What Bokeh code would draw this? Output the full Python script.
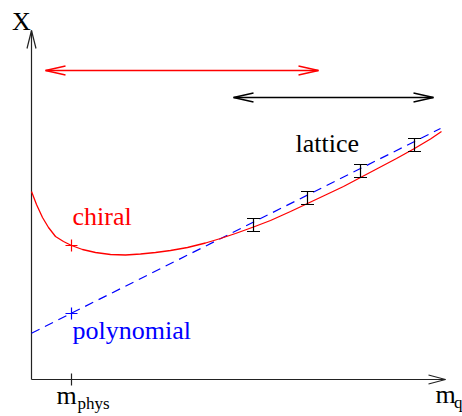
from bokeh.plotting import figure
from bokeh.models import Range1d
from bokeh.core.properties import value
from bokeh.embed import file_html
from bokeh.resources import INLINE

# --- data (quark-mass axis m_q horizontal, observable X vertical) ---
chiral_m = [0, 5, 11, 17, 24, 32, 40, 51, 64, 79, 94, 109, 124, 139, 156,
            174, 189, 204, 222, 239, 259, 276, 294, 312, 329, 347, 365, 383, 399, 410]
chiral_x = [188, 175, 162, 152, 143, 138, 134, 130, 127, 125, 124.5, 125.5, 127, 129, 132,
            136.5, 141, 146, 152.5, 159, 168, 176, 184.5, 193, 202, 211.5, 221, 231, 240.5, 248]

poly_m = [0, 409]
poly_x = [46.3, 251]

lattice_m = [222, 276, 329, 383]
lattice_x = [154.5, 181.5, 208.5, 234.5]
lattice_err = [6.5, 6.5, 6.5, 6.5]

m_phys = 40
chiral_at_phys = 134
poly_at_phys = 66

chiral_range = [14, 287]   # red double arrow
lattice_range = [202, 402]  # black double arrow
chiral_range_y = 309
lattice_range_y = 282

SERIF = "Liberation Serif"
RED = "#ff0000"
BLUE = "#0000ff"
CAP = 6.5  # half width of error-bar caps

p = figure(width=462, height=416, x_range=Range1d(-31, 431), y_range=Range1d(-37, 379),
           output_backend="svg", toolbar_location=None, x_axis_type=None, y_axis_type=None,
           min_border=0)
p.outline_line_alpha = 0


def open_head(tip_x, tip_y, dx, dy, length, half):
    """Two strokes of an open arrowhead pointing along (dx, dy)."""
    bx, by = tip_x - dx * length, tip_y - dy * length
    nx, ny = -dy, dx
    return ([[bx + nx * half, tip_x, bx - nx * half]],
            [[by + ny * half, tip_y, by - ny * half]])


def head_lines(xs, ys, color, width=1.2):
    p.multi_line(xs, ys, line_color=color, line_width=width)


# labels (anchor sits 8 px above the drawn baseline in the svg output)
def label(x, y, txt, color="black", size="26px"):
    p.text([x], [y], text=[txt], text_color=color, text_font=value(SERIF),
           text_font_size=size, text_baseline="alphabetic")


# axes with arrows
x_end = 414
y_end = 349
p.line([0, x_end], [0, 0], line_color="#222222", line_width=1.2)
p.line([0, 0], [0, y_end], line_color="#222222", line_width=1.2)
hx, hy = open_head(x_end, 0, 1, 0, 17, 4.5)
head_lines(hx, hy, "#222222")
hx, hy = open_head(0, y_end, 0, 1, 18, 4.5)
head_lines(hx, hy, "#222222")

# m_phys tick
p.line([m_phys, m_phys], [-6, 6], line_color="#222222", line_width=1.2)

# range arrows
for (x0, x1), yy, col in [(chiral_range, chiral_range_y, RED),
                          (lattice_range, lattice_range_y, "black")]:
    p.line([x0, x1], [yy, yy], line_color=col, line_width=1.3)
    hx, hy = open_head(x1, yy, 1, 0, 20, 4.5)
    head_lines(hx, hy, col, 1.3)
    hx, hy = open_head(x0, yy, -1, 0, 20, 4.5)
    head_lines(hx, hy, col, 1.3)

# fits
p.line(poly_m, poly_x, line_color=BLUE, line_width=1.2, line_dash="9 6")
p.line(chiral_m, chiral_x, line_color=RED, line_width=1.3)

# extrapolated values at m_phys
p.scatter([m_phys], [chiral_at_phys], marker="cross", size=12, line_color=RED, line_width=1.2)
p.scatter([m_phys], [poly_at_phys], marker="cross", size=12, line_color=BLUE, line_width=1.2)

# lattice data with error bars
upper = [v + e for v, e in zip(lattice_x, lattice_err)]
lower = [v - e for v, e in zip(lattice_x, lattice_err)]
p.segment(lattice_m, lower, lattice_m, upper, line_color="black", line_width=1.2)
for ends in (upper, lower):
    p.segment([m - CAP for m in lattice_m], ends, [m + CAP for m in lattice_m], ends,
              line_color="black", line_width=1.2)

label(-19.5, 358, "X")
label(41, 163, "chiral", RED)
label(41, 49, "polynomial", BLUE)
label(264, 236, "lattice")
label(25, -16.3, "m")
label(46, -24, "phys", size="17px")
label(404, -14.7, "m")
label(422.5, -22.5, "q", size="17px")

open("out.html", "w").write(file_html(p, INLINE))
